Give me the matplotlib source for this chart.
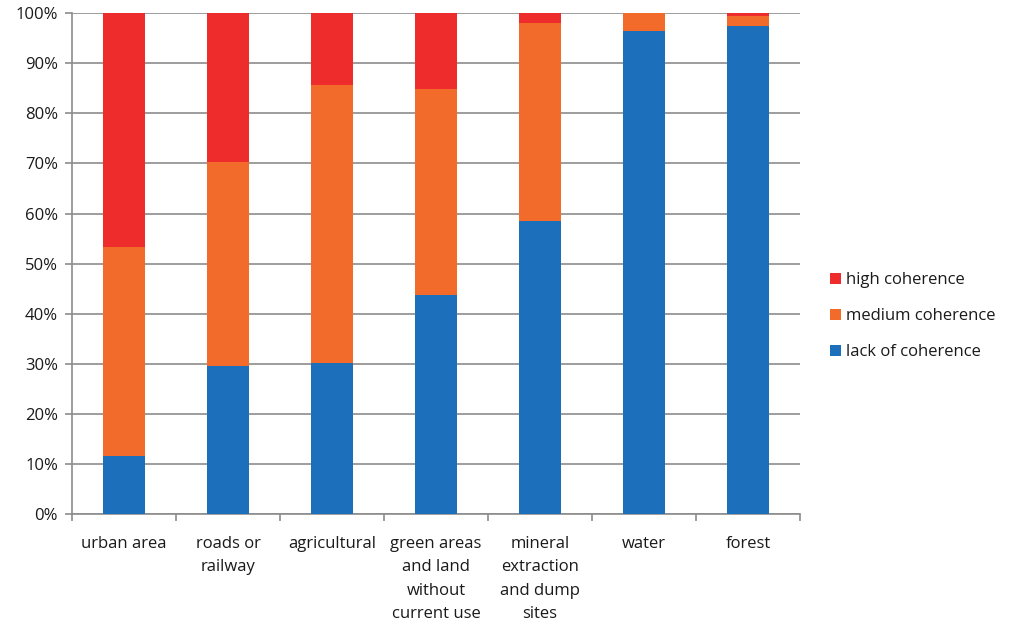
import numpy as np
import matplotlib.pyplot as plt

plt.rcParams['font.family'] = ['Open Sans', 'DejaVu Sans']

categories = ['urban area', 'roads or\nrailway', 'agricultural',
              'green areas\nand land\nwithout\ncurrent use',
              'mineral\nextraction\nand dump\nsites', 'water', 'forest']
lack = [11.6, 29.5, 30.1, 43.7, 58.5, 96.4, 97.4]
medium = [41.7, 40.8, 55.5, 41.1, 39.5, 3.6, 2.0]
high = [46.7, 29.7, 14.4, 15.2, 2.0, 0.0, 0.6]

c_high = '#EE2C2C'
c_med = '#F26B2A'
c_lack = '#1C6FBA'
txt = '#1a1a1a'

fig = plt.figure(figsize=(10.17, 6.28), dpi=100)
ax = fig.add_axes([0.0708, 0.1815, 0.716, 0.7975])

x = np.arange(len(categories))
w = 0.4
lack = np.array(lack)
medium = np.array(medium)
high = np.array(high)
b1 = ax.bar(x, lack, w, color=c_lack, zorder=3)
b2 = ax.bar(x, medium, w, bottom=lack, color=c_med, zorder=3)
b3 = ax.bar(x, high, w, bottom=lack + medium, color=c_high, zorder=3)

ax.set_xlim(-0.5, len(categories) - 0.5)
ax.set_ylim(0, 100)
ax.set_yticks(np.arange(0, 101, 10))
ax.set_yticklabels([f'{v}%' for v in range(0, 101, 10)], fontsize=12, color=txt)
ax.yaxis.grid(True, color='#8c8c8c', linewidth=1.2, zorder=0)
ax.set_axisbelow(True)

ax.set_xticks(np.arange(-0.5, len(categories), 1))
ax.set_xticklabels([])
ax.set_xticks(x, minor=True)
ax.set_xticklabels(categories, minor=True, fontsize=12, linespacing=1.6,
                   va='top', color=txt)
ax.tick_params(axis='x', which='major', length=5, color='#8c8c8c', width=1.2)
ax.tick_params(axis='x', which='minor', length=0, pad=16)
ax.tick_params(axis='y', length=5, color='#8c8c8c', width=1.2, pad=5)

for s in ['top', 'right']:
    ax.spines[s].set_visible(False)
for s in ['left', 'bottom']:
    ax.spines[s].set_color('#8c8c8c')
    ax.spines[s].set_linewidth(1.2)

leg = ax.legend([b3, b2, b1], ['high coherence', 'medium coherence', 'lack of coherence'],
                loc='center left', bbox_to_anchor=(1.02, 0.395), frameon=False,
                fontsize=12, handlelength=0.65, handleheight=0.65, handletextpad=0.3,
                labelspacing=1.2)
for t in leg.get_texts():
    t.set_color(txt)

fig.savefig('out.png', dpi=100)
